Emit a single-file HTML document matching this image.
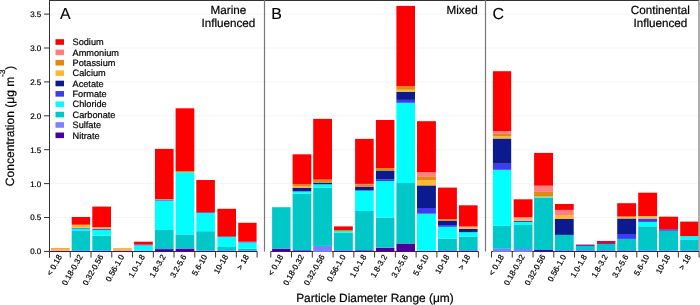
<!DOCTYPE html>
<html><head><meta charset="utf-8"><style>
html,body{margin:0;padding:0;background:#fff;}
body{width:700px;height:305px;overflow:hidden;}
svg{display:block;will-change:transform;text-rendering:geometricPrecision;font-family:"Liberation Sans", sans-serif;}
</style></head><body>
<svg width="700" height="305" viewBox="0 0 700 305">
<rect x="0" y="0" width="700" height="305" fill="#fff"/>
<line x1="50" x2="698" y1="217.5" y2="217.5" stroke="#f5f5f5" stroke-width="1"/>
<line x1="50" x2="698" y1="183.6" y2="183.6" stroke="#f5f5f5" stroke-width="1"/>
<line x1="50" x2="698" y1="149.7" y2="149.7" stroke="#f5f5f5" stroke-width="1"/>
<line x1="50" x2="698" y1="115.8" y2="115.8" stroke="#f5f5f5" stroke-width="1"/>
<line x1="50" x2="698" y1="81.9" y2="81.9" stroke="#f5f5f5" stroke-width="1"/>
<line x1="50" x2="698" y1="48" y2="48" stroke="#f5f5f5" stroke-width="1"/>
<line x1="50" x2="698" y1="14.1" y2="14.1" stroke="#f5f5f5" stroke-width="1"/>
<line x1="49" x2="699" y1="0.5" y2="0.5" stroke="#333" stroke-width="1"/>
<line x1="49.5" x2="49.5" y1="0" y2="257.5" stroke="#333" stroke-width="1"/>
<line x1="264.5" x2="264.5" y1="0" y2="251.5" stroke="#777" stroke-width="1.2"/>
<line x1="485.5" x2="485.5" y1="0" y2="251.5" stroke="#777" stroke-width="1.2"/>
<line x1="699.0" x2="699.0" y1="0" y2="251.5" stroke="#777" stroke-width="1.2"/>
<line x1="44" x2="49.5" y1="251.4" y2="251.4" stroke="#333" stroke-width="1"/>
<line x1="44" x2="49.5" y1="217.5" y2="217.5" stroke="#333" stroke-width="1"/>
<line x1="44" x2="49.5" y1="183.6" y2="183.6" stroke="#333" stroke-width="1"/>
<line x1="44" x2="49.5" y1="149.7" y2="149.7" stroke="#333" stroke-width="1"/>
<line x1="44" x2="49.5" y1="115.8" y2="115.8" stroke="#333" stroke-width="1"/>
<line x1="44" x2="49.5" y1="81.9" y2="81.9" stroke="#333" stroke-width="1"/>
<line x1="44" x2="49.5" y1="48" y2="48" stroke="#333" stroke-width="1"/>
<line x1="44" x2="49.5" y1="14.1" y2="14.1" stroke="#333" stroke-width="1"/>
<line x1="49.5" x2="257.1" y1="251.5" y2="251.5" stroke="#333" stroke-width="1"/>
<line x1="49.5" x2="49.5" y1="251.5" y2="257.5" stroke="#333" stroke-width="1"/>
<line x1="70.26" x2="70.26" y1="251.5" y2="257.5" stroke="#333" stroke-width="1"/>
<line x1="91.02" x2="91.02" y1="251.5" y2="257.5" stroke="#333" stroke-width="1"/>
<line x1="111.78" x2="111.78" y1="251.5" y2="257.5" stroke="#333" stroke-width="1"/>
<line x1="132.54" x2="132.54" y1="251.5" y2="257.5" stroke="#333" stroke-width="1"/>
<line x1="153.3" x2="153.3" y1="251.5" y2="257.5" stroke="#333" stroke-width="1"/>
<line x1="174.06" x2="174.06" y1="251.5" y2="257.5" stroke="#333" stroke-width="1"/>
<line x1="194.82" x2="194.82" y1="251.5" y2="257.5" stroke="#333" stroke-width="1"/>
<line x1="215.58" x2="215.58" y1="251.5" y2="257.5" stroke="#333" stroke-width="1"/>
<line x1="236.34" x2="236.34" y1="251.5" y2="257.5" stroke="#333" stroke-width="1"/>
<line x1="257.1" x2="257.1" y1="251.5" y2="257.5" stroke="#333" stroke-width="1"/>
<line x1="270.8" x2="478.4" y1="251.5" y2="251.5" stroke="#333" stroke-width="1"/>
<line x1="270.8" x2="270.8" y1="251.5" y2="257.5" stroke="#333" stroke-width="1"/>
<line x1="291.56" x2="291.56" y1="251.5" y2="257.5" stroke="#333" stroke-width="1"/>
<line x1="312.32" x2="312.32" y1="251.5" y2="257.5" stroke="#333" stroke-width="1"/>
<line x1="333.08" x2="333.08" y1="251.5" y2="257.5" stroke="#333" stroke-width="1"/>
<line x1="353.84" x2="353.84" y1="251.5" y2="257.5" stroke="#333" stroke-width="1"/>
<line x1="374.6" x2="374.6" y1="251.5" y2="257.5" stroke="#333" stroke-width="1"/>
<line x1="395.36" x2="395.36" y1="251.5" y2="257.5" stroke="#333" stroke-width="1"/>
<line x1="416.12" x2="416.12" y1="251.5" y2="257.5" stroke="#333" stroke-width="1"/>
<line x1="436.88" x2="436.88" y1="251.5" y2="257.5" stroke="#333" stroke-width="1"/>
<line x1="457.64" x2="457.64" y1="251.5" y2="257.5" stroke="#333" stroke-width="1"/>
<line x1="478.4" x2="478.4" y1="251.5" y2="257.5" stroke="#333" stroke-width="1"/>
<line x1="491.5" x2="699.1" y1="251.5" y2="251.5" stroke="#333" stroke-width="1"/>
<line x1="491.5" x2="491.5" y1="251.5" y2="257.5" stroke="#333" stroke-width="1"/>
<line x1="512.26" x2="512.26" y1="251.5" y2="257.5" stroke="#333" stroke-width="1"/>
<line x1="533.02" x2="533.02" y1="251.5" y2="257.5" stroke="#333" stroke-width="1"/>
<line x1="553.78" x2="553.78" y1="251.5" y2="257.5" stroke="#333" stroke-width="1"/>
<line x1="574.54" x2="574.54" y1="251.5" y2="257.5" stroke="#333" stroke-width="1"/>
<line x1="595.3" x2="595.3" y1="251.5" y2="257.5" stroke="#333" stroke-width="1"/>
<line x1="616.06" x2="616.06" y1="251.5" y2="257.5" stroke="#333" stroke-width="1"/>
<line x1="636.82" x2="636.82" y1="251.5" y2="257.5" stroke="#333" stroke-width="1"/>
<line x1="657.58" x2="657.58" y1="251.5" y2="257.5" stroke="#333" stroke-width="1"/>
<line x1="678.34" x2="678.34" y1="251.5" y2="257.5" stroke="#333" stroke-width="1"/>
<line x1="699.1" x2="699.1" y1="251.5" y2="257.5" stroke="#333" stroke-width="1"/>
<rect x="51" y="250.8" width="18.6" height="1.1" fill="#4B0099"/>
<rect x="51" y="248.6" width="18.6" height="2.2" fill="#FFB830"/>
<rect x="51" y="248" width="18.6" height="0.6" fill="#E08A10"/>
<rect x="71.7" y="250.8" width="18.4" height="1.1" fill="#4B0099"/>
<rect x="71.7" y="231" width="18.4" height="19.8" fill="#00C8C8"/>
<rect x="71.7" y="228.6" width="18.4" height="2.4" fill="#00FFFF"/>
<rect x="71.7" y="227.8" width="18.4" height="0.8" fill="#3C3CF5"/>
<rect x="71.7" y="224.7" width="18.4" height="3.1" fill="#FFB830"/>
<rect x="71.7" y="217" width="18.4" height="7.7" fill="#FF0000"/>
<rect x="92.3" y="250.8" width="18.7" height="1.1" fill="#4B0099"/>
<rect x="92.3" y="235.7" width="18.7" height="15.1" fill="#00C8C8"/>
<rect x="92.3" y="229.9" width="18.7" height="5.8" fill="#00FFFF"/>
<rect x="92.3" y="229" width="18.7" height="0.9" fill="#3C3CF5"/>
<rect x="92.3" y="227.2" width="18.7" height="1.8" fill="#FFB830"/>
<rect x="92.3" y="206.6" width="18.7" height="20.6" fill="#FF0000"/>
<rect x="113.1" y="250.8" width="18.8" height="1.1" fill="#4B0099"/>
<rect x="113.1" y="249" width="18.8" height="1.8" fill="#FFB830"/>
<rect x="113.1" y="248.4" width="18.8" height="0.6" fill="#E08A10"/>
<rect x="134.1" y="250.8" width="18.7" height="1.1" fill="#4B0099"/>
<rect x="134.1" y="245.3" width="18.7" height="5.5" fill="#00FFFF"/>
<rect x="134.1" y="244.5" width="18.7" height="0.8" fill="#3C3CF5"/>
<rect x="134.1" y="241.7" width="18.7" height="2.8" fill="#FF0000"/>
<rect x="155" y="249.1" width="18.6" height="2.8" fill="#4B0099"/>
<rect x="155" y="230" width="18.6" height="19.1" fill="#00C8C8"/>
<rect x="155" y="200.6" width="18.6" height="29.4" fill="#00FFFF"/>
<rect x="155" y="199.8" width="18.6" height="0.8" fill="#3C3CF5"/>
<rect x="155" y="199" width="18.6" height="0.8" fill="#E08A10"/>
<rect x="155" y="148.9" width="18.6" height="50.1" fill="#FF0000"/>
<rect x="175.6" y="248.5" width="18.7" height="3.4" fill="#4B0099"/>
<rect x="175.6" y="234.4" width="18.7" height="14.1" fill="#00C8C8"/>
<rect x="175.6" y="172.2" width="18.7" height="62.2" fill="#00FFFF"/>
<rect x="175.6" y="171" width="18.7" height="1.2" fill="#E08A10"/>
<rect x="175.6" y="108.3" width="18.7" height="62.7" fill="#FF0000"/>
<rect x="196.3" y="250.8" width="18.6" height="1.1" fill="#4B0099"/>
<rect x="196.3" y="231.2" width="18.6" height="19.6" fill="#00C8C8"/>
<rect x="196.3" y="213" width="18.6" height="18.2" fill="#00FFFF"/>
<rect x="196.3" y="212.3" width="18.6" height="0.7" fill="#3C3CF5"/>
<rect x="196.3" y="180" width="18.6" height="32.3" fill="#FF0000"/>
<rect x="217.4" y="250.8" width="18.6" height="1.1" fill="#4B0099"/>
<rect x="217.4" y="247" width="18.6" height="3.8" fill="#00C8C8"/>
<rect x="217.4" y="237" width="18.6" height="10" fill="#00FFFF"/>
<rect x="217.4" y="236.4" width="18.6" height="0.6" fill="#3C3CF5"/>
<rect x="217.4" y="208.8" width="18.6" height="27.6" fill="#FF0000"/>
<rect x="238.2" y="250.8" width="18.4" height="1.1" fill="#4B0099"/>
<rect x="238.2" y="248.5" width="18.4" height="2.3" fill="#00C8C8"/>
<rect x="238.2" y="242.4" width="18.4" height="6.1" fill="#00FFFF"/>
<rect x="238.2" y="241.7" width="18.4" height="0.7" fill="#3C3CF5"/>
<rect x="238.2" y="222.8" width="18.4" height="18.9" fill="#FF0000"/>
<rect x="272.1" y="248.6" width="18.4" height="3.3" fill="#4B0099"/>
<rect x="272.1" y="207.2" width="18.4" height="41.4" fill="#00C8C8"/>
<rect x="292.6" y="250.3" width="18.7" height="1.6" fill="#4B0099"/>
<rect x="292.6" y="193.6" width="18.7" height="56.7" fill="#00C8C8"/>
<rect x="292.6" y="191.4" width="18.7" height="2.2" fill="#00FFFF"/>
<rect x="292.6" y="187.7" width="18.7" height="3.7" fill="#0C1A90"/>
<rect x="292.6" y="186.5" width="18.7" height="1.2" fill="#FFB830"/>
<rect x="292.6" y="184.3" width="18.7" height="2.2" fill="#E08A10"/>
<rect x="292.6" y="154.3" width="18.7" height="30" fill="#FF0000"/>
<rect x="313.2" y="245.9" width="18.8" height="6" fill="#8080FF"/>
<rect x="313.2" y="187.7" width="18.8" height="58.2" fill="#00C8C8"/>
<rect x="313.2" y="184.3" width="18.8" height="3.4" fill="#00FFFF"/>
<rect x="313.2" y="182.6" width="18.8" height="1.7" fill="#0C1A90"/>
<rect x="313.2" y="179.6" width="18.8" height="3" fill="#E08A10"/>
<rect x="313.2" y="118.9" width="18.8" height="60.7" fill="#FF0000"/>
<rect x="334" y="250.5" width="18.8" height="1.4" fill="#4B0099"/>
<rect x="334" y="232.7" width="18.8" height="17.8" fill="#00C8C8"/>
<rect x="334" y="231" width="18.8" height="1.7" fill="#00FFFF"/>
<rect x="334" y="230" width="18.8" height="1" fill="#E08A10"/>
<rect x="334" y="226.4" width="18.8" height="3.6" fill="#FF0000"/>
<rect x="355.1" y="250.3" width="18.6" height="1.6" fill="#4B0099"/>
<rect x="355.1" y="211" width="18.6" height="39.3" fill="#00C8C8"/>
<rect x="355.1" y="190.5" width="18.6" height="20.5" fill="#00FFFF"/>
<rect x="355.1" y="186.8" width="18.6" height="3.7" fill="#0C1A90"/>
<rect x="355.1" y="185" width="18.6" height="1.8" fill="#E08A10"/>
<rect x="355.1" y="183.9" width="18.6" height="1.1" fill="#FF8080"/>
<rect x="355.1" y="138.9" width="18.6" height="45" fill="#FF0000"/>
<rect x="375.9" y="247.7" width="18.5" height="4.2" fill="#4B0099"/>
<rect x="375.9" y="217.5" width="18.5" height="30.2" fill="#00C8C8"/>
<rect x="375.9" y="181" width="18.5" height="36.5" fill="#00FFFF"/>
<rect x="375.9" y="179.3" width="18.5" height="1.7" fill="#3C3CF5"/>
<rect x="375.9" y="170.5" width="18.5" height="8.8" fill="#0C1A90"/>
<rect x="375.9" y="168" width="18.5" height="2.5" fill="#E08A10"/>
<rect x="375.9" y="120" width="18.5" height="48" fill="#FF0000"/>
<rect x="396.4" y="243.5" width="18.6" height="8.4" fill="#4B0099"/>
<rect x="396.4" y="183" width="18.6" height="60.5" fill="#00C8C8"/>
<rect x="396.4" y="102.8" width="18.6" height="80.2" fill="#00FFFF"/>
<rect x="396.4" y="99.9" width="18.6" height="2.9" fill="#3C3CF5"/>
<rect x="396.4" y="91.7" width="18.6" height="8.2" fill="#0C1A90"/>
<rect x="396.4" y="89.7" width="18.6" height="2" fill="#FFB830"/>
<rect x="396.4" y="86" width="18.6" height="3.7" fill="#E08A10"/>
<rect x="396.4" y="5.9" width="18.6" height="80.1" fill="#FF0000"/>
<rect x="417" y="250.8" width="18.9" height="1.1" fill="#4B0099"/>
<rect x="417" y="213.7" width="18.9" height="37.1" fill="#00FFFF"/>
<rect x="417" y="208" width="18.9" height="5.7" fill="#3C3CF5"/>
<rect x="417" y="185.4" width="18.9" height="22.6" fill="#0C1A90"/>
<rect x="417" y="180" width="18.9" height="5.4" fill="#FFB830"/>
<rect x="417" y="176.9" width="18.9" height="3.1" fill="#E08A10"/>
<rect x="417" y="172.3" width="18.9" height="4.6" fill="#FF8080"/>
<rect x="417" y="121.2" width="18.9" height="51.1" fill="#FF0000"/>
<rect x="438" y="250.5" width="18.9" height="1.4" fill="#4B0099"/>
<rect x="438" y="238.5" width="18.9" height="12" fill="#00C8C8"/>
<rect x="438" y="226.8" width="18.9" height="11.7" fill="#00FFFF"/>
<rect x="438" y="225.1" width="18.9" height="1.7" fill="#3C3CF5"/>
<rect x="438" y="220.6" width="18.9" height="4.5" fill="#0C1A90"/>
<rect x="438" y="219.2" width="18.9" height="1.4" fill="#E08A10"/>
<rect x="438" y="187.6" width="18.9" height="31.6" fill="#FF0000"/>
<rect x="459" y="250.5" width="18.6" height="1.4" fill="#4B0099"/>
<rect x="459" y="236.5" width="18.6" height="14" fill="#00C8C8"/>
<rect x="459" y="232.2" width="18.6" height="4.3" fill="#00FFFF"/>
<rect x="459" y="228.8" width="18.6" height="3.4" fill="#0C1A90"/>
<rect x="459" y="227.5" width="18.6" height="1.3" fill="#FFB830"/>
<rect x="459" y="226.4" width="18.6" height="1.1" fill="#E08A10"/>
<rect x="459" y="205.3" width="18.6" height="21.1" fill="#FF0000"/>
<rect x="492.9" y="248.8" width="18.3" height="3.1" fill="#8080FF"/>
<rect x="492.9" y="225.9" width="18.3" height="22.9" fill="#00C8C8"/>
<rect x="492.9" y="169.8" width="18.3" height="56.1" fill="#00FFFF"/>
<rect x="492.9" y="163.7" width="18.3" height="6.1" fill="#3C3CF5"/>
<rect x="492.9" y="138.5" width="18.3" height="25.2" fill="#0C1A90"/>
<rect x="492.9" y="136.4" width="18.3" height="2.1" fill="#FFB830"/>
<rect x="492.9" y="133.9" width="18.3" height="2.5" fill="#E08A10"/>
<rect x="492.9" y="131.1" width="18.3" height="2.8" fill="#FF8080"/>
<rect x="492.9" y="71.2" width="18.3" height="59.9" fill="#FF0000"/>
<rect x="513.7" y="249" width="18.8" height="2.9" fill="#8080FF"/>
<rect x="513.7" y="225" width="18.8" height="24" fill="#00C8C8"/>
<rect x="513.7" y="222" width="18.8" height="3" fill="#00FFFF"/>
<rect x="513.7" y="220.9" width="18.8" height="1.1" fill="#3C3CF5"/>
<rect x="513.7" y="218.5" width="18.8" height="2.4" fill="#FFB830"/>
<rect x="513.7" y="217" width="18.8" height="1.5" fill="#FF8080"/>
<rect x="513.7" y="199.3" width="18.8" height="17.7" fill="#FF0000"/>
<rect x="534.1" y="250" width="18.9" height="1.9" fill="#4B0099"/>
<rect x="534.1" y="197.8" width="18.9" height="52.2" fill="#00C8C8"/>
<rect x="534.1" y="197.1" width="18.9" height="0.7" fill="#00FFFF"/>
<rect x="534.1" y="196.6" width="18.9" height="0.5" fill="#FFB830"/>
<rect x="534.1" y="191.9" width="18.9" height="4.7" fill="#E08A10"/>
<rect x="534.1" y="185.7" width="18.9" height="6.2" fill="#FF8080"/>
<rect x="534.1" y="152.9" width="18.9" height="32.8" fill="#FF0000"/>
<rect x="554.9" y="250.5" width="18.8" height="1.4" fill="#4B0099"/>
<rect x="554.9" y="234.9" width="18.8" height="15.6" fill="#00C8C8"/>
<rect x="554.9" y="219" width="18.8" height="15.9" fill="#0C1A90"/>
<rect x="554.9" y="215.2" width="18.8" height="3.8" fill="#FFB830"/>
<rect x="554.9" y="209.9" width="18.8" height="5.3" fill="#FF8080"/>
<rect x="554.9" y="204" width="18.8" height="5.9" fill="#FF0000"/>
<rect x="575.8" y="250.5" width="18.9" height="1.4" fill="#4B0099"/>
<rect x="575.8" y="246" width="18.9" height="4.5" fill="#00C8C8"/>
<rect x="575.8" y="245" width="18.9" height="1" fill="#3C3CF5"/>
<rect x="575.8" y="244.1" width="18.9" height="0.9" fill="#FF8080"/>
<rect x="596.9" y="250.5" width="18.5" height="1.4" fill="#4B0099"/>
<rect x="596.9" y="244" width="18.5" height="6.5" fill="#00C8C8"/>
<rect x="596.9" y="243" width="18.5" height="1" fill="#3C3CF5"/>
<rect x="596.9" y="241" width="18.5" height="2" fill="#FF0000"/>
<rect x="617.2" y="250.5" width="18.9" height="1.4" fill="#4B0099"/>
<rect x="617.2" y="238.9" width="18.9" height="11.6" fill="#00C8C8"/>
<rect x="617.2" y="234" width="18.9" height="4.9" fill="#3C3CF5"/>
<rect x="617.2" y="218.5" width="18.9" height="15.5" fill="#0C1A90"/>
<rect x="617.2" y="216.5" width="18.9" height="2" fill="#FFB830"/>
<rect x="617.2" y="203.2" width="18.9" height="13.3" fill="#FF0000"/>
<rect x="638.2" y="250.8" width="18.9" height="1.1" fill="#4B0099"/>
<rect x="638.2" y="226.3" width="18.9" height="24.5" fill="#00C8C8"/>
<rect x="638.2" y="221.9" width="18.9" height="4.4" fill="#00FFFF"/>
<rect x="638.2" y="218.6" width="18.9" height="3.3" fill="#3C3CF5"/>
<rect x="638.2" y="216" width="18.9" height="2.6" fill="#FFB830"/>
<rect x="638.2" y="192.7" width="18.9" height="23.3" fill="#FF0000"/>
<rect x="659" y="250.8" width="19" height="1.1" fill="#4B0099"/>
<rect x="659" y="230.8" width="19" height="20" fill="#00C8C8"/>
<rect x="659" y="229.2" width="19" height="1.6" fill="#3C3CF5"/>
<rect x="659" y="216.7" width="19" height="12.5" fill="#FF0000"/>
<rect x="680.2" y="250.8" width="18.1" height="1.1" fill="#4B0099"/>
<rect x="680.2" y="239.4" width="18.1" height="11.4" fill="#00C8C8"/>
<rect x="680.2" y="236.1" width="18.1" height="3.3" fill="#00FFFF"/>
<rect x="680.2" y="221.6" width="18.1" height="14.5" fill="#FF0000"/>
<text x="41.3" y="254.3" font-size="8" text-anchor="end" fill="#000" stroke="#000" stroke-width="0.2">0.0</text>
<text x="41.3" y="220.4" font-size="8" text-anchor="end" fill="#000" stroke="#000" stroke-width="0.2">0.5</text>
<text x="41.3" y="186.5" font-size="8" text-anchor="end" fill="#000" stroke="#000" stroke-width="0.2">1.0</text>
<text x="41.3" y="152.6" font-size="8" text-anchor="end" fill="#000" stroke="#000" stroke-width="0.2">1.5</text>
<text x="41.3" y="118.7" font-size="8" text-anchor="end" fill="#000" stroke="#000" stroke-width="0.2">2.0</text>
<text x="41.3" y="84.8" font-size="8" text-anchor="end" fill="#000" stroke="#000" stroke-width="0.2">2.5</text>
<text x="41.3" y="50.9" font-size="8" text-anchor="end" fill="#000" stroke="#000" stroke-width="0.2">3.0</text>
<text x="41.3" y="17" font-size="8" text-anchor="end" fill="#000" stroke="#000" stroke-width="0.2">3.5</text>
<rect x="55.5" y="39.2" width="8.5" height="5.6" fill="#FF0000"/>
<text x="72.5" y="45.2" font-size="9.2" fill="#000" stroke="#000" stroke-width="0.2">Sodium</text>
<rect x="55.5" y="49.57" width="8.5" height="5.6" fill="#FF8080"/>
<text x="72.5" y="55.57" font-size="9.2" fill="#000" stroke="#000" stroke-width="0.2">Ammonium</text>
<rect x="55.5" y="59.94" width="8.5" height="5.6" fill="#E08A10"/>
<text x="72.5" y="65.94" font-size="9.2" fill="#000" stroke="#000" stroke-width="0.2">Potassium</text>
<rect x="55.5" y="70.31" width="8.5" height="5.6" fill="#FFB830"/>
<text x="72.5" y="76.31" font-size="9.2" fill="#000" stroke="#000" stroke-width="0.2">Calcium</text>
<rect x="55.5" y="80.68" width="8.5" height="5.6" fill="#0C1A90"/>
<text x="72.5" y="86.68" font-size="9.2" fill="#000" stroke="#000" stroke-width="0.2">Acetate</text>
<rect x="55.5" y="91.05" width="8.5" height="5.6" fill="#3C3CF5"/>
<text x="72.5" y="97.05" font-size="9.2" fill="#000" stroke="#000" stroke-width="0.2">Formate</text>
<rect x="55.5" y="101.42" width="8.5" height="5.6" fill="#00FFFF"/>
<text x="72.5" y="107.42" font-size="9.2" fill="#000" stroke="#000" stroke-width="0.2">Chloride</text>
<rect x="55.5" y="111.79" width="8.5" height="5.6" fill="#00C8C8"/>
<text x="72.5" y="117.79" font-size="9.2" fill="#000" stroke="#000" stroke-width="0.2">Carbonate</text>
<rect x="55.5" y="122.16" width="8.5" height="5.6" fill="#8080FF"/>
<text x="72.5" y="128.16" font-size="9.2" fill="#000" stroke="#000" stroke-width="0.2">Sulfate</text>
<rect x="55.5" y="132.53" width="8.5" height="5.6" fill="#4B0099"/>
<text x="72.5" y="138.53" font-size="9.2" fill="#000" stroke="#000" stroke-width="0.2">Nitrate</text>
<text x="60.0" y="18.6" font-size="15.9" fill="#000" stroke="#000" stroke-width="0.1">A</text>
<text x="271.2" y="18.6" font-size="15.9" fill="#000" stroke="#000" stroke-width="0.1">B</text>
<text x="492.6" y="18.6" font-size="15.9" fill="#000" stroke="#000" stroke-width="0.1">C</text>
<text x="228.4" y="14" font-size="11.7" text-anchor="middle" fill="#000" stroke="#000" stroke-width="0.2">Marine</text>
<text x="228.4" y="27.3" font-size="11.7" text-anchor="middle" fill="#000" stroke="#000" stroke-width="0.2">Influenced</text>
<text x="477.7" y="13.7" font-size="11.7" text-anchor="end" fill="#000" stroke="#000" stroke-width="0.2">Mixed</text>
<text x="660.4" y="13.5" font-size="11.7" text-anchor="middle" fill="#000" stroke="#000" stroke-width="0.2">Continental</text>
<text x="660.4" y="26.8" font-size="11.7" text-anchor="middle" fill="#000" stroke="#000" stroke-width="0.2">Influenced</text>
<text x="374.9" y="302.1" font-size="11.9" text-anchor="middle" fill="#000" stroke="#000" stroke-width="0.2">Particle Diameter Range (μm)</text>
<text transform="translate(14.2,125.9) rotate(-90)" x="0" y="0" font-size="12.05" text-anchor="middle" fill="#000" stroke="#000" stroke-width="0.2">Concentration (μg m<tspan dy="-9" font-size="8">-3</tspan><tspan dy="9">)</tspan></text>
<text transform="translate(62.28,256.7) rotate(-60)" x="0" y="0" font-size="8" text-anchor="end" fill="#000" stroke="#000" stroke-width="0.2">&lt; 0.18</text>
<text transform="translate(83.04,256.7) rotate(-60)" x="0" y="0" font-size="8" text-anchor="end" fill="#000" stroke="#000" stroke-width="0.2">0.18-0.32</text>
<text transform="translate(103.8,256.7) rotate(-60)" x="0" y="0" font-size="8" text-anchor="end" fill="#000" stroke="#000" stroke-width="0.2">0.32-0.56</text>
<text transform="translate(124.56,256.7) rotate(-60)" x="0" y="0" font-size="8" text-anchor="end" fill="#000" stroke="#000" stroke-width="0.2">0.56-1.0</text>
<text transform="translate(145.32,256.7) rotate(-60)" x="0" y="0" font-size="8" text-anchor="end" fill="#000" stroke="#000" stroke-width="0.2">1.0-1.8</text>
<text transform="translate(166.08,256.7) rotate(-60)" x="0" y="0" font-size="8" text-anchor="end" fill="#000" stroke="#000" stroke-width="0.2">1.8-3.2</text>
<text transform="translate(186.84,256.7) rotate(-60)" x="0" y="0" font-size="8" text-anchor="end" fill="#000" stroke="#000" stroke-width="0.2">3.2-5.6</text>
<text transform="translate(207.6,256.7) rotate(-60)" x="0" y="0" font-size="8" text-anchor="end" fill="#000" stroke="#000" stroke-width="0.2">5.6-10</text>
<text transform="translate(228.36,256.7) rotate(-60)" x="0" y="0" font-size="8" text-anchor="end" fill="#000" stroke="#000" stroke-width="0.2">10-18</text>
<text transform="translate(249.12,256.7) rotate(-60)" x="0" y="0" font-size="8" text-anchor="end" fill="#000" stroke="#000" stroke-width="0.2">&gt; 18</text>
<text transform="translate(283.58,256.7) rotate(-60)" x="0" y="0" font-size="8" text-anchor="end" fill="#000" stroke="#000" stroke-width="0.2">&lt; 0.18</text>
<text transform="translate(304.34,256.7) rotate(-60)" x="0" y="0" font-size="8" text-anchor="end" fill="#000" stroke="#000" stroke-width="0.2">0.18-0.32</text>
<text transform="translate(325.1,256.7) rotate(-60)" x="0" y="0" font-size="8" text-anchor="end" fill="#000" stroke="#000" stroke-width="0.2">0.32-0.56</text>
<text transform="translate(345.86,256.7) rotate(-60)" x="0" y="0" font-size="8" text-anchor="end" fill="#000" stroke="#000" stroke-width="0.2">0.56-1.0</text>
<text transform="translate(366.62,256.7) rotate(-60)" x="0" y="0" font-size="8" text-anchor="end" fill="#000" stroke="#000" stroke-width="0.2">1.0-1.8</text>
<text transform="translate(387.38,256.7) rotate(-60)" x="0" y="0" font-size="8" text-anchor="end" fill="#000" stroke="#000" stroke-width="0.2">1.8-3.2</text>
<text transform="translate(408.14,256.7) rotate(-60)" x="0" y="0" font-size="8" text-anchor="end" fill="#000" stroke="#000" stroke-width="0.2">3.2-5.6</text>
<text transform="translate(428.9,256.7) rotate(-60)" x="0" y="0" font-size="8" text-anchor="end" fill="#000" stroke="#000" stroke-width="0.2">5.6-10</text>
<text transform="translate(449.66,256.7) rotate(-60)" x="0" y="0" font-size="8" text-anchor="end" fill="#000" stroke="#000" stroke-width="0.2">10-18</text>
<text transform="translate(470.42,256.7) rotate(-60)" x="0" y="0" font-size="8" text-anchor="end" fill="#000" stroke="#000" stroke-width="0.2">&gt; 18</text>
<text transform="translate(504.28,256.7) rotate(-60)" x="0" y="0" font-size="8" text-anchor="end" fill="#000" stroke="#000" stroke-width="0.2">&lt; 0.18</text>
<text transform="translate(525.04,256.7) rotate(-60)" x="0" y="0" font-size="8" text-anchor="end" fill="#000" stroke="#000" stroke-width="0.2">0.18-0.32</text>
<text transform="translate(545.8,256.7) rotate(-60)" x="0" y="0" font-size="8" text-anchor="end" fill="#000" stroke="#000" stroke-width="0.2">0.32-0.56</text>
<text transform="translate(566.56,256.7) rotate(-60)" x="0" y="0" font-size="8" text-anchor="end" fill="#000" stroke="#000" stroke-width="0.2">0.56-1.0</text>
<text transform="translate(587.32,256.7) rotate(-60)" x="0" y="0" font-size="8" text-anchor="end" fill="#000" stroke="#000" stroke-width="0.2">1.0-1.8</text>
<text transform="translate(608.08,256.7) rotate(-60)" x="0" y="0" font-size="8" text-anchor="end" fill="#000" stroke="#000" stroke-width="0.2">1.8-3.2</text>
<text transform="translate(628.84,256.7) rotate(-60)" x="0" y="0" font-size="8" text-anchor="end" fill="#000" stroke="#000" stroke-width="0.2">3.2-5.6</text>
<text transform="translate(649.6,256.7) rotate(-60)" x="0" y="0" font-size="8" text-anchor="end" fill="#000" stroke="#000" stroke-width="0.2">5.6-10</text>
<text transform="translate(670.36,256.7) rotate(-60)" x="0" y="0" font-size="8" text-anchor="end" fill="#000" stroke="#000" stroke-width="0.2">10-18</text>
<text transform="translate(691.12,256.7) rotate(-60)" x="0" y="0" font-size="8" text-anchor="end" fill="#000" stroke="#000" stroke-width="0.2">&gt; 18</text>
</svg>
</body></html>
